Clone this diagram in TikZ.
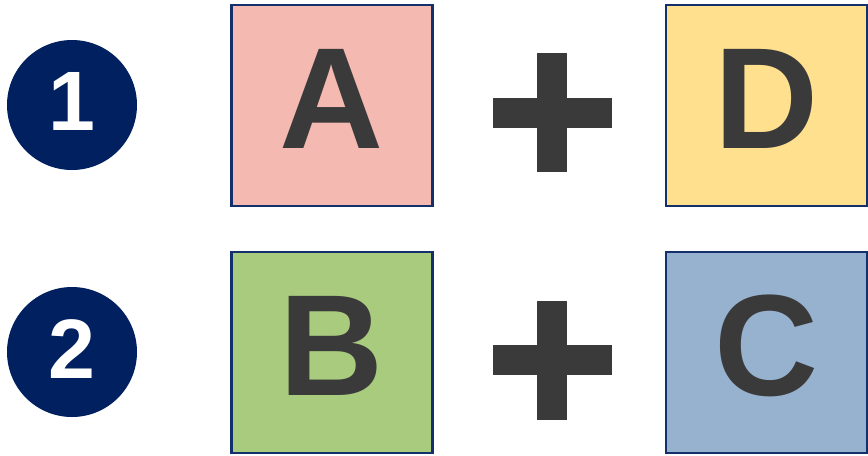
\documentclass[tikz,border=0pt]{standalone}
\usepackage{fontspec}
\setmainfont{Liberation Sans}
\usepackage{xcolor}
\usetikzlibrary{positioning}

\definecolor{navy}{HTML}{002060}
\definecolor{frame}{HTML}{14306A}
\definecolor{ink}{HTML}{3A3A3A}
\definecolor{boxA}{HTML}{F4B9B0}
\definecolor{boxB}{HTML}{A9CB7E}
\definecolor{boxC}{HTML}{97B2CF}
\definecolor{boxD}{HTML}{FFE08F}

\begin{document}
\begin{tikzpicture}[
  tile/.style={rectangle, draw=frame, line width=0.8pt, minimum size=2.01cm, inner sep=0pt},
  letter/.style={anchor=base, text=ink, font=\fontsize{41}{41}\selectfont\bfseries},
  badge/.style={circle, fill=navy, minimum size=1.3cm, inner sep=0pt},
  digit/.style={anchor=base, text=white, font=\fontsize{24}{24}\selectfont\bfseries}
]
\useasboundingbox (0,0) rectangle (8.68,4.55);
% Row 1
\node[badge] (one) at (0.72, 3.50) {};
\node[digit] (onelbl) at (0.72, 3.25) {1};
\node[tile, fill=boxA] (a) at (3.32, 3.495) {};
\node[letter] (alabel) at (3.32, 3.07) {A};
\node[tile, fill=boxD] (d) at (7.665, 3.495) {};
\node[letter] (dlabel) at (7.665, 3.07) {D};
% plus sign between A and D
\fill[ink] (5.37, 2.83) rectangle (5.67, 4.02);
\fill[ink] (4.93, 3.275) rectangle (6.12, 3.575);
% Row 2
\node[badge] (two) at (0.72, 1.03) {};
\node[digit] (twolbl) at (0.72, 0.77) {2};
\node[tile, fill=boxB] (b) at (3.32, 1.025) {};
\node[letter] (blabel) at (3.32, 0.60) {B};
\node[tile, fill=boxC] (c) at (7.665, 1.025) {};
\node[letter] (clabel) at (7.665, 0.60) {C};
% plus sign between B and C
\fill[ink] (5.37, 0.355) rectangle (5.67, 1.545);
\fill[ink] (4.93, 0.80) rectangle (6.12, 1.10);
\end{tikzpicture}
\end{document}
